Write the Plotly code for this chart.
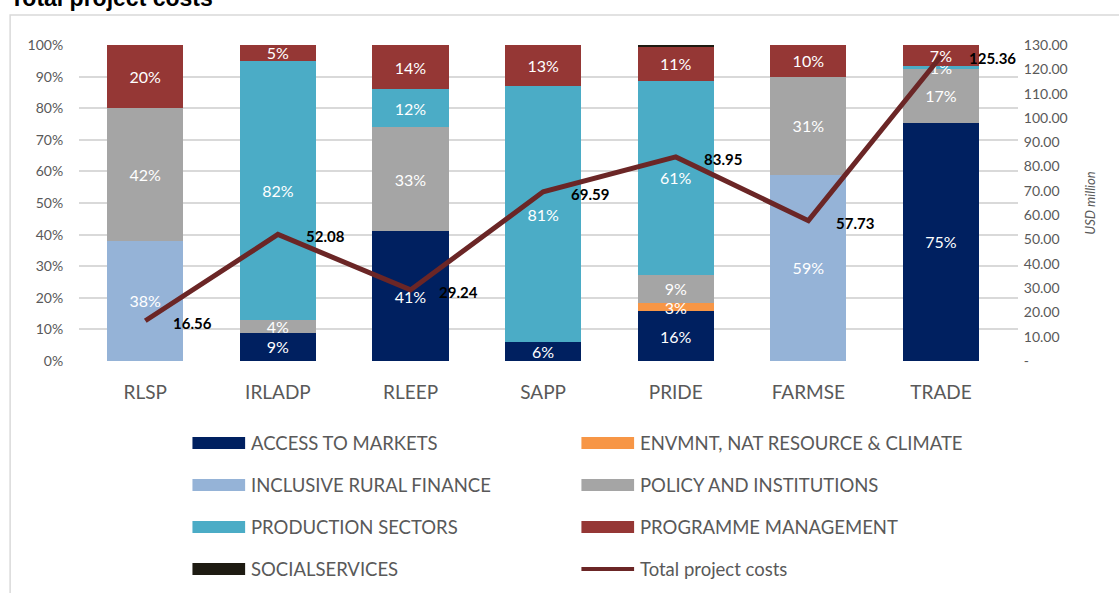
import plotly.graph_objects as go

# shares of total cost per component (%)
projects = ["RLSP", "IRLADP", "RLEEP", "SAPP", "PRIDE", "FARMSE", "TRADE"]
access_to_markets = [0, 9, 41, 6, 15.7, 0, 75.4]
envmnt_climate = [0, 0, 0, 0, 2.7, 0, 0]
inclusive_finance = [38, 0, 0, 0, 0, 59, 0]
policy_institutions = [42, 4, 33, 0, 8.9, 31, 17.0]
production_sectors = [0, 82, 12, 81, 61.3, 0, 1.0]
programme_mgmt = [20, 5, 14, 13, 10.9, 10, 6.6]
social_services = [0, 0, 0, 0, 0.5, 0, 0]

# total project cost, USD million
total_costs = [16.56, 52.08, 29.24, 69.59, 83.95, 57.73, 125.36]

usd_ticks = list(range(0, 131, 10))

components = [
    ("ACCESS TO MARKETS", access_to_markets, "#002060", True),
    ("ENVMNT, NAT RESOURCE & CLIMATE", envmnt_climate, "#F79646", True),
    ("INCLUSIVE RURAL FINANCE", inclusive_finance, "#95B3D7", True),
    ("POLICY AND INSTITUTIONS", policy_institutions, "#A5A5A5", True),
    ("PRODUCTION SECTORS", production_sectors, "#4BACC6", True),
    ("PROGRAMME MANAGEMENT", programme_mgmt, "#953735", True),
    ("SOCIALSERVICES", social_services, "#1E1B12", False),
]
line_color = "#6B2626"

# plot area in pixels (for converting legend/frame positions)
W, H = 1119, 593
L, R, T, B = 79, 101, 45, 232
ph = H - T - B
eff_w = W - 12  # the page ends up slightly narrower than W
pw = eff_w - L - R


def px(x):
    return (x - L) / pw


def py(y):
    return (H - B - y) / ph


fig = go.Figure()

for name, vals, color, labelled in components:
    text = [f"{v:.0f}%" if (v and labelled) else "" for v in vals]
    fig.add_trace(go.Bar(
        x=projects, y=[v if v else None for v in vals], name=name,
        marker=dict(color=color, line=dict(width=0)),
        text=text, textposition="inside", textangle=0,
        insidetextanchor="middle",
        textfont=dict(color="white", size=16, family="Lato"),
        showlegend=False, hoverinfo="name+y",
    ))

fig.add_trace(go.Scatter(
    x=projects, y=total_costs, yaxis="y2", mode="lines",
    name="Total project costs",
    line=dict(color=line_color, width=5),
    showlegend=False,
))

annotations = []
for p, v in zip(projects, total_costs):
    annotations.append(dict(
        x=p, y=v, xref="x", yref="y2", text=f"<b>{v:.2f}</b>",
        showarrow=False, xanchor="left", xshift=26, yshift=-2,
        font=dict(size=15, color="black", family="Lato"),
    ))

# title, partly cut off at the top like the original
annotations.append(dict(
    x=px(9), y=py(13), xref="paper", yref="paper", text="<b>Total project costs</b>",
    showarrow=False, xanchor="left", yanchor="bottom",
    font=dict(size=23, color="black", family="Liberation Sans"),
))

# hand-drawn legend (wide swatches, two columns)
shapes = [dict(
    type="rect", xref="paper", yref="paper",
    x0=px(11), x1=px(1130), y0=py(15), y1=py(610),
    line=dict(color="#D9D9D9", width=1.5), fillcolor="rgba(0,0,0,0)", layer="below",
)]
legend_items = [(n, c, "bar") for n, _, c, _ in components] + [("Total project costs", line_color, "line")]
col_x = [191, 575]
row_y = [443, 485, 527, 569]
for i, (name, color, kind) in enumerate(legend_items):
    cx = col_x[i % 2]
    cy = row_y[i // 2]
    if kind == "bar":
        shapes.append(dict(type="rect", xref="paper", yref="paper",
                           x0=px(cx), x1=px(cx + 52), y0=py(cy - 6), y1=py(cy + 6),
                           fillcolor=color, line=dict(width=0)))
    else:
        shapes.append(dict(type="line", xref="paper", yref="paper",
                           x0=px(cx), x1=px(cx + 52), y0=py(cy), y1=py(cy),
                           line=dict(color=color, width=4)))
    annotations.append(dict(
        x=px(cx + 56), y=py(cy), xref="paper", yref="paper", text=name,
        showarrow=False, xanchor="left", yanchor="middle",
        font=dict(size=18.5, color="#595959", family="Lato"),
    ))

fig.update_layout(
    width=W, height=H,
    margin=dict(l=L, r=R, t=T, b=B, autoexpand=False),
    barmode="stack", bargap=0.426,
    plot_bgcolor="white", paper_bgcolor="white",
    font=dict(family="Lato", color="#595959"),
    xaxis=dict(
        tickfont=dict(size=19, color="#595959"),
        ticks="outside", ticklen=14, tickcolor="rgba(0,0,0,0)",
        showline=False, showgrid=False, automargin=False,
    ),
    yaxis=dict(
        range=[0, 100], dtick=10, ticksuffix="%",
        tickfont=dict(size=14, color="#595959"),
        gridcolor="#D9D9D9", gridwidth=1.5, zeroline=False,
        ticks="outside", ticklen=12, tickcolor="rgba(0,0,0,0)",
        automargin=False,
    ),
    yaxis2=dict(
        overlaying="y", side="right", range=[0, 130],
        tickvals=usd_ticks,
        ticktext=["-" if v == 0 else f"{v:.2f}" for v in usd_ticks],
        tickfont=dict(size=14, color="#595959"),
        showgrid=False, zeroline=False,
        ticks="outside", ticklen=2, tickcolor="rgba(0,0,0,0)",
        title=dict(text="<i>USD million</i>", font=dict(size=13, color="#595959"), standoff=19),
        automargin=False,
    ),
    uniformtext=dict(minsize=16, mode="show"),
    annotations=annotations,
    shapes=shapes,
)

fig.write_html("out.html", config={"displayModeBar": False},
               post_script="document.body.style.margin='0';")
